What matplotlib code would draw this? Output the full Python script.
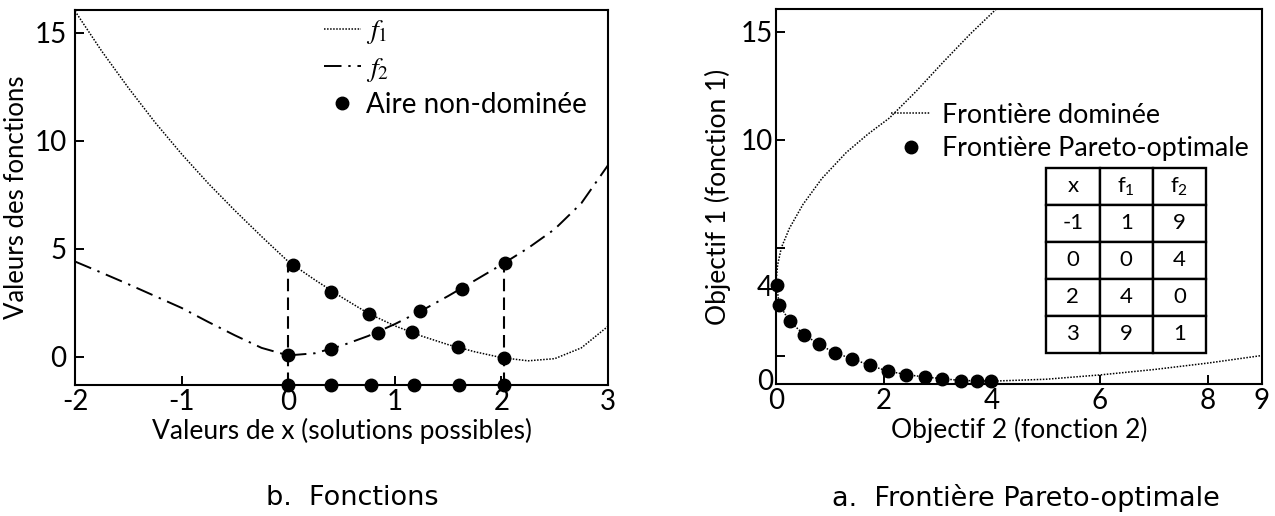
import matplotlib.pyplot as plt

plt.rcParams['font.family'] = ['Lato', 'DejaVu Sans']
plt.rcParams['mathtext.fontset'] = 'stix'
plt.rcParams['axes.unicode_minus'] = False

# Panneau b : valeurs des deux fonctions
x_courbe = [-2, -1.75, -1.5, -1.25, -1, -0.75, -0.5, -0.25, 0, 0.25, 0.5,
            0.75, 1.0, 1.25, 1.5, 1.75, 2.0, 2.25, 2.5, 2.75, 3.0]
f1_courbe = [16.0, 14.15, 12.45, 10.85, 9.38, 8.02, 6.76, 5.56, 4.4, 3.55, 2.75,
             2.0, 1.42, 0.95, 0.55, 0.22, -0.05, -0.2, -0.1, 0.4, 1.4]
f2_courbe = [4.4, 3.88, 3.35, 2.8, 2.25, 1.6, 0.98, 0.4, 0.05, 0.15, 0.5,
             0.95, 1.5, 2.12, 2.8, 3.52, 4.25, 5.02, 5.9, 7.1, 8.86]

# points de l'aire non-dominée
x_pts_f1 = [0.045, 0.40, 0.755, 1.166, 1.59, 2.02]
f1_pts = [4.22, 3.01, 1.98, 1.13, 0.46, -0.08]
x_pts_f2 = [0.0, 0.40, 0.84, 1.235, 1.63, 2.03]
f2_pts = [0.05, 0.36, 1.10, 2.09, 3.14, 4.33]
x_solutions = [0.0, 0.40, 0.78, 1.18, 1.60, 2.02]

# Panneau a : frontières
dom_x_haut = [0.0, 0.03, 0.1, 0.25, 0.5, 0.85, 1.3, 1.7, 2.1, 2.6, 3.1, 3.6, 4.08]
dom_y_haut = [3.4, 4.2, 5.0, 5.9, 7.0, 8.2, 9.4, 10.25, 11.0, 12.25, 13.6, 14.9, 16.05]
dom_x_bas = [3.98, 5.0, 6.0, 7.0, 8.0, 9.0]
dom_y_bas = [-1.19, -1.1, -0.9, -0.65, -0.35, 0.0]
pareto_f2 = [0.01, 0.06, 0.25, 0.52, 0.80, 1.09, 1.41, 1.74, 2.08, 2.41,
             2.76, 3.08, 3.42, 3.72, 3.98]
pareto_f1 = [3.26, 2.36, 1.59, 0.97, 0.51, 0.12, -0.15, -0.46, -0.73, -0.88,
             -1.0, -1.07, -1.16, -1.17, -1.19]

tab_x = [-1, 0, 2, 3]
tab_f1 = [1, 0, 4, 9]
tab_f2 = [9, 4, 0, 1]

ylim = (-1.32, 16.05)
pointille = (0, (1, 1))
tiret_point = (0, (9, 3.5, 1.2, 3.5))
tirets = (0, (6, 3))


def style_axes(ax, pad_y):
    for s in ax.spines.values():
        s.set_linewidth(1.5)
    ax.tick_params(direction='in', length=6.5, width=1.4, labelsize=20,
                   top=False, right=False)
    ax.tick_params(axis='x', pad=3)
    ax.tick_params(axis='y', pad=pad_y)


fig = plt.figure(figsize=(12.75, 5.16), dpi=100)
ax1 = fig.add_axes([75 / 1275, 131 / 516, 533 / 1275, 375 / 516])
ax2 = fig.add_axes([776 / 1275, 132 / 516, 486 / 1275, 375 / 516])

# ----- b. Fonctions
ax1.plot(x_courbe, f1_courbe, color='black', lw=1.1, ls=pointille, label='$f_1$')
ax1.plot(x_courbe, f2_courbe, color='black', lw=1.4, ls=tiret_point, label='$f_2$')
ax1.plot(x_pts_f1, f1_pts, 'o', color='black', ms=9, clip_on=False)
ax1.plot(x_pts_f2, f2_pts, 'o', color='black', ms=9, clip_on=False)
ax1.plot(x_solutions, [0] * len(x_solutions), 'o', color='black', ms=9,
         transform=ax1.get_xaxis_transform(), clip_on=False,
         label='Aire non-dominée')
ax1.plot([x_solutions[0]] * 2, [ylim[0], f1_pts[0]], color='black', lw=1.5, ls=tirets)
ax1.plot([x_solutions[-1]] * 2, [ylim[0], f2_pts[-1]], color='black', lw=1.5, ls=tirets)
ax1.set_xlim(-2, 3)
ax1.set_ylim(*ylim)
ax1.set_xticks([-2, -1, 0, 1, 2, 3])
ax1.set_yticks([0, 5, 10, 15])
style_axes(ax1, 6)
ax1.set_xlabel('Valeurs de x (solutions possibles)', fontsize=19, labelpad=2)
ax1.set_ylabel('Valeurs des fonctions', fontsize=18.5)
ax1.yaxis.set_label_coords(-0.086, 0.5)
ax1.legend(loc='upper left', bbox_to_anchor=(0.468, 0.98), frameon=False,
           fontsize=20, handlelength=1.3, handletextpad=0.2,
           labelspacing=0.3, borderpad=0, borderaxespad=0)

# ----- a. Frontière Pareto-optimale
ax2.plot(dom_x_haut, dom_y_haut, color='black', lw=1.1, ls=pointille,
         label='Frontière dominée')
ax2.plot(dom_x_bas, dom_y_bas, color='black', lw=1.1, ls=pointille)
ax2.plot(pareto_f2, pareto_f1, color='black', lw=1.1, ls=pointille)
ax2.plot(pareto_f2, pareto_f1, 'o', color='black', ms=9, clip_on=False,
         label='Frontière Pareto-optimale')
ax2.set_xlim(0, 9)
ax2.set_ylim(*ylim)
ax2.set_xticks([0, 2, 4, 6, 8, 9])
ax2.set_yticks([0, 5, 10, 15])
ax2.set_yticklabels(['', '', '10', '15'])
ax2.set_yticks([pareto_f1[-1] + 0.1, pareto_f1[0]], labels=['0', '4'], minor=True)
style_axes(ax2, 2)
ax2.tick_params(axis='y', which='minor', length=0, labelsize=20, pad=2)
ax2.set_xlabel('Objectif 2 (fonction 2)', fontsize=19, labelpad=2)
ax2.set_ylabel('Objectif 1 (fonction 1)', fontsize=19)
ax2.yaxis.set_label_coords(-0.093, 0.5)
ax2.legend(loc='upper left', bbox_to_anchor=(0.237, 0.75), frameon=False,
           fontsize=19.3, handlelength=1.45, handletextpad=0.45,
           labelspacing=0.32, borderpad=0, borderaxespad=0)

cellules = [['x', r'$\mathregular{f_1}$', r'$\mathregular{f_2}$']]
for a, b, c in zip(tab_x, tab_f1, tab_f2):
    cellules.append([str(a), str(b), str(c)])
tab = ax2.table(cellText=cellules, cellLoc='center',
                bbox=[0.556, 0.083, 0.329, 0.493])
tab.auto_set_font_size(False)
tab.set_fontsize(16)
for cell in tab.get_celld().values():
    cell.set_linewidth(1.7)
    cell.set_edgecolor('black')

fig.text(0.276, 0.035, 'b.  Fonctions', family='DejaVu Sans', fontsize=19.5,
         ha='center', va='center')
fig.text(0.805, 0.035, 'a.  Frontière Pareto-optimale', family='DejaVu Sans',
         fontsize=19.5, ha='center', va='center')

fig.savefig('out.png', dpi=100)
